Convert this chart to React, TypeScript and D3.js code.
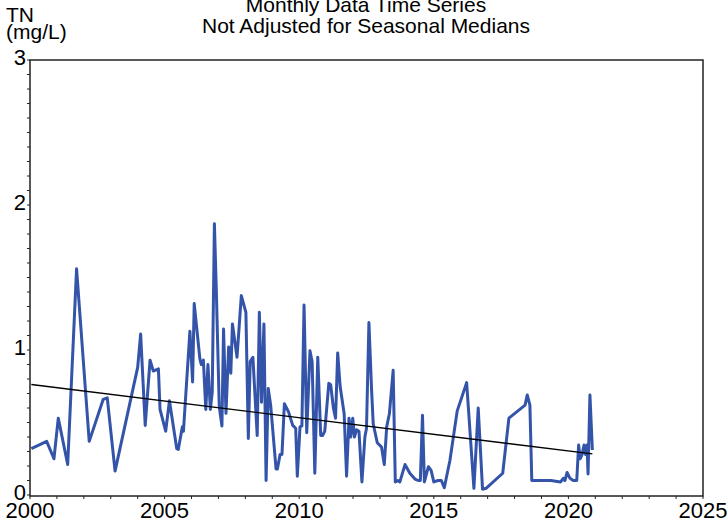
import React from "react";
import * as d3 from "d3";

const years: number[] = [
  2000.05, 2000.62, 2000.89, 2001.05, 2001.40, 2001.73, 2002.20, 2002.72, 2002.87, 2003.16,
  2004.00, 2004.11, 2004.28, 2004.46, 2004.58, 2004.77, 2004.83, 2005.04, 2005.18, 2005.45,
  2005.51, 2005.66, 2005.70, 2005.94, 2006.04, 2006.10, 2006.31, 2006.36, 2006.44, 2006.53,
  2006.61, 2006.70, 2006.77, 2006.85, 2006.92, 2007.03, 2007.13, 2007.19, 2007.28, 2007.38,
  2007.46, 2007.52, 2007.69, 2007.85, 2008.02, 2008.11, 2008.18, 2008.28, 2008.44, 2008.52,
  2008.60, 2008.69, 2008.77, 2008.85, 2008.94, 2009.14, 2009.19, 2009.29, 2009.36, 2009.45,
  2009.60, 2009.76, 2009.87, 2009.93, 2010.03, 2010.10, 2010.18, 2010.28, 2010.40, 2010.48,
  2010.58, 2010.69, 2010.80, 2010.87, 2010.95, 2011.10, 2011.17, 2011.27, 2011.35, 2011.43,
  2011.52, 2011.67, 2011.76, 2011.85, 2011.91, 2011.99, 2012.05, 2012.13, 2012.22, 2012.33,
  2012.44, 2012.50, 2012.59, 2012.69, 2012.75, 2012.90, 2013.06, 2013.16, 2013.25, 2013.35,
  2013.49, 2013.57, 2013.66, 2013.74, 2013.93, 2014.11, 2014.30, 2014.42, 2014.50, 2014.58,
  2014.65, 2014.80, 2014.90, 2015.00, 2015.16, 2015.28, 2015.39, 2015.60, 2015.87, 2016.22,
  2016.49, 2016.65, 2016.81, 2016.94, 2017.56, 2017.79, 2018.39, 2018.47, 2018.57, 2018.64,
  2018.79, 2019.00, 2019.35, 2019.71, 2019.81, 2019.87, 2019.95, 2020.06, 2020.18, 2020.31,
  2020.38, 2020.44, 2020.51, 2020.58, 2020.64, 2020.69, 2020.73, 2020.80, 2020.89,
];

const tn: number[] = [
  0.32, 0.37, 0.25, 0.53, 0.21, 1.56, 0.37, 0.66, 0.67, 0.165,
  0.88, 1.11, 0.48, 0.93, 0.855, 0.87, 0.59, 0.44, 0.65, 0.32,
  0.315, 0.47, 0.44, 1.13, 0.78, 1.32, 0.94, 0.90, 0.93, 0.59,
  0.90, 0.59, 0.71, 1.87, 1.42, 0.61, 0.476, 1.145, 0.563, 1.02,
  0.84, 1.18, 0.95, 1.375, 1.26, 0.39, 0.92, 0.95, 0.41, 1.26,
  0.64, 1.18, 0.10, 0.735, 0.62, 0.18, 0.18, 0.28, 0.28, 0.63,
  0.575, 0.48, 0.46, 0.13, 0.47, 0.476, 1.31, 0.43, 0.995, 0.92,
  0.15, 0.95, 0.41, 0.41, 0.44, 0.77, 0.76, 0.60, 0.53, 0.98,
  0.75, 0.56, 0.13, 0.53, 0.40, 0.53, 0.40, 0.45, 0.44, 0.09,
  0.40, 0.46, 1.19, 0.72, 0.49, 0.36, 0.33, 0.21, 0.47, 0.56,
  0.86, 0.09, 0.10, 0.09, 0.21, 0.15, 0.11, 0.10, 0.10, 0.55,
  0.09, 0.195, 0.17, 0.09, 0.10, 0.10, 0.05, 0.24, 0.58, 0.775,
  0.046, 0.60, 0.04, 0.046, 0.15, 0.53, 0.62, 0.69, 0.62, 0.10,
  0.10, 0.10, 0.10, 0.09, 0.115, 0.10, 0.155, 0.115, 0.10, 0.10,
  0.345, 0.25, 0.28, 0.345, 0.28, 0.345, 0.145, 0.69, 0.31,
];

const trendYears: number[] = [2000.05, 2020.89];
const trendValues: number[] = [0.762, 0.283];

const xTickLabels: string[] = ["2000", "2005", "2010", "2015", "2020", "2025"];
const yTickLabels: string[] = ["0", "1", "2", "3"];
const titleLines: string[] = ["Monthly Data Time Series", "Not Adjusted for Seasonal Medians"];
const yTitleLines: string[] = ["TN", "(mg/L)"];

const W = 727;
const H = 525;
const M = { left: 30, right: 24, top: 60, bottom: 30 };

export default function App() {
  const x = d3.scaleLinear().domain([2000, 2025]).range([M.left, W - M.right]);
  const y = d3.scaleLinear().domain([0, 3]).range([H - M.bottom, M.top]);
  const data = years.map((yr, i) => ({ yr, v: tn[i] }));
  const line = d3
    .line<{ yr: number; v: number }>()
    .x((d) => x(d.yr))
    .y((d) => y(d.v));
  const trend = trendYears.map((yr, i) => ({ yr, v: trendValues[i] }));
  const font = "'Liberation Sans', Arial, sans-serif";
  const minorY = d3.range(0, 31).map((k) => k / 10);
  const minorX = d3.range(2000, 2026);
  const x0 = M.left;
  const x1 = W - M.right;
  const y0 = H - M.bottom + 1;
  const y1 = M.top;
  return (
    <svg
      width={W}
      height={H}
      style={{ position: "absolute", left: 0, top: 0, background: "#fff" }}
      fontFamily={font}
    >
      <rect x={0} y={0} width={W} height={H} fill="#fff" />
      {titleLines.map((t, i) => (
        <text key={t} x={366} y={12 + i * 21} textAnchor="middle" fontSize={21} fill="#000">
          {t}
        </text>
      ))}
      {yTitleLines.map((t, i) => (
        <text key={t} x={6} y={22 + i * 17} fontSize={21} fill="#000">
          {t}
        </text>
      ))}
      <path d={line(data) ?? ""} fill="none" stroke="#3454a9" strokeWidth={3} strokeLinejoin="round" />
      <path d={line(trend) ?? ""} fill="none" stroke="#000" strokeWidth={1.3} />
      <rect x={x0} y={y1} width={x1 - x0} height={y0 - y1} fill="none" stroke="#222" strokeWidth={1.5} />
      {minorY.map((v) => (
        <line key={"yt" + v} x1={x0 - 3} x2={x0} y1={y(v)} y2={y(v)} stroke="#222" strokeWidth={1} />
      ))}
      {minorX.map((yr) => (
        <line key={"xt" + yr} x1={x(yr)} x2={x(yr)} y1={y0} y2={y0 + 3} stroke="#222" strokeWidth={1} />
      ))}
      {yTickLabels.map((t) => (
        <text key={"yl" + t} x={x0 - 4} y={y(+t) - 1} textAnchor="end" dominantBaseline="middle" fontSize={22} fill="#000">
          {t}
        </text>
      ))}
      {xTickLabels.map((t) => (
        <text key={"xl" + t} x={x(+t)} y={y0 + 22} textAnchor="middle" fontSize={22} fill="#000">
          {t}
        </text>
      ))}
    </svg>
  );
}
